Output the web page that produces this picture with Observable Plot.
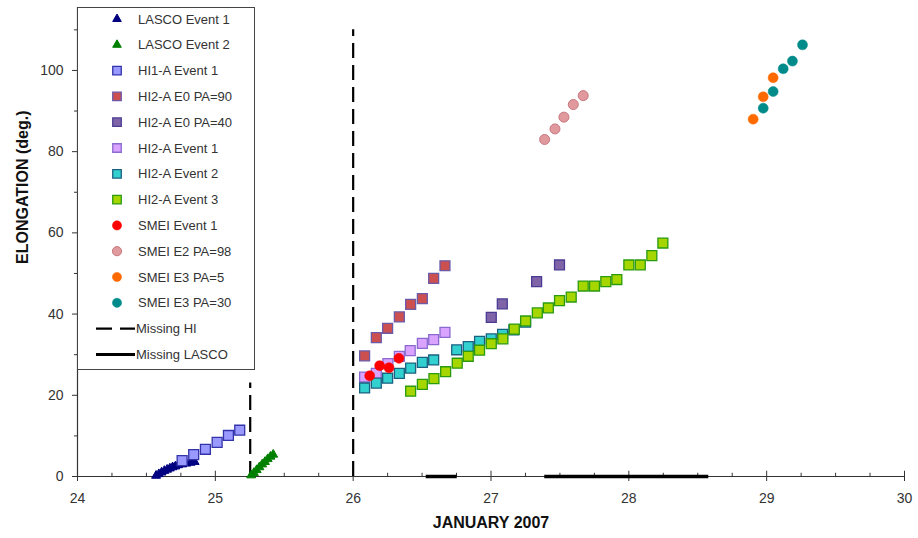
<!DOCTYPE html>
<html><head><meta charset="utf-8">
<script src="https://cdn.jsdelivr.net/npm/d3@7"></script>
<script src="https://cdn.jsdelivr.net/npm/@observablehq/plot@0.6"></script>
<style>
body{margin:0;background:#fff;font-family:Arial,"Liberation Sans",sans-serif}
#wrap{position:relative;width:918px;height:538px}
#legend{position:absolute;left:0;top:0}
</style></head><body><div id="wrap"></div>
<script>
// ---- data: [day of January 2007, elongation (deg.)] ----
const lascoE1 = [[24.57,0.2],[24.59,0.6],[24.61,1.0],[24.63,1.4],[24.65,1.7],[24.67,2.0],[24.69,2.3],[24.71,2.5],[24.73,2.8],[24.76,3.0],[24.79,3.2],[24.82,3.4],[24.85,3.6]];
const lascoE2 = [[25.26,0.3],[25.28,0.9],[25.30,1.6],[25.32,2.3],[25.34,3.0],[25.36,3.6],[25.38,4.3],[25.40,4.9],[25.42,5.4]];
const hi1aE1 = [[24.759,3.9],[24.843,5.4],[24.928,6.7],[25.013,8.4],[25.095,10.1],[25.177,11.4]];
const hi2aE0pa90 = [[26.083,29.7],[26.168,34.2],[26.250,36.5],[26.335,39.3],[26.417,42.4],[26.502,43.8],[26.584,48.8],[26.666,51.9]];
const hi2aE0pa40 = [[27.002,39.2],[27.082,42.5],[27.331,48.0],[27.497,52.1]];
const hi2aE1 = [[26.083,24.5],[26.168,25.4],[26.252,27.8],[26.335,29.6],[26.414,31.0],[26.502,32.8],[26.584,33.7],[26.666,35.5]];
const hi2aE2 = [[26.083,21.8],[26.168,23.0],[26.250,24.2],[26.335,25.4],[26.417,26.7],[26.502,28.1],[26.584,28.7],[26.751,31.2],[26.835,32.0],[26.917,33.3],[27.002,33.9],[27.084,35.0],[27.166,36.1],[27.251,38.0]];
const hi2aE3 = [[26.417,21.0],[26.502,22.7],[26.586,24.1],[26.671,25.8],[26.755,27.9],[26.835,29.6],[26.917,31.1],[27.002,32.7],[27.086,33.9],[27.169,36.3],[27.251,38.3],[27.336,40.3],[27.416,41.5],[27.497,43.3],[27.582,44.2],[27.669,46.9],[27.751,46.9],[27.833,48.0],[27.913,48.5],[28.000,52.1],[28.083,52.1],[28.167,54.4],[28.247,57.5]];
const smeiE1 = [[26.120,24.8],[26.192,27.3],[26.260,26.8],[26.332,29.1]];
const smeiE2pa98 = [[27.389,83.0],[27.464,85.6],[27.529,88.5],[27.597,91.6],[27.669,93.8]];
const smeiE3pa5 = [[28.902,88.0],[28.975,93.5],[29.047,98.2]];
const smeiE3pa30 = [[28.975,90.7],[29.047,94.8],[29.120,100.4],[29.187,102.3],[29.260,106.3]];
const missingHI = [{x:25.253,y1:0,y2:23},{x:26.0,y1:0,y2:110}];
const missingLASCO = [{x1:26.53,x2:26.755},{x1:27.39,x2:28.58}];
const xTicks = [24,25,26,27,28,29,30];
const xMinorTicks = [24.25,24.5,24.75,25.25,25.5,25.75,26.25,26.5,26.75,27.25,27.5,27.75,28.25,28.5,28.75,29.25,29.5,29.75];
const yTicks = [0,20,40,60,80,100];
const yMinorTicks = [10,30,50,70,90,110];
const xTitle = "JANUARY 2007";
const yTitle = "ELONGATION (deg.)";

const series = [
  {name:"LASCO Event 1", data:lascoE1, symbol:"triangle", fill:"#000080", stroke:"#000080", r:3.3, sw:1},
  {name:"LASCO Event 2", data:lascoE2, symbol:"triangle", fill:"#008000", stroke:"#008000", r:3.3, sw:1},
  {name:"HI1-A Event 1", data:hi1aE1, symbol:"square", fill:"#9999ff", stroke:"#3333aa", r:5.6, sw:1.3},
  {name:"HI2-A E0 PA=90", data:hi2aE0pa90, symbol:"square", fill:"#cc5050", stroke:"#6a5aa8", r:5.6, sw:1.3},
  {name:"HI2-A E0 PA=40", data:hi2aE0pa40, symbol:"square", fill:"#8064a8", stroke:"#4a3c94", r:5.6, sw:1.3},
  {name:"HI2-A Event 1", data:hi2aE1, symbol:"square", fill:"#d9a3ff", stroke:"#8a6ad0", r:5.6, sw:1.3},
  {name:"HI2-A Event 2", data:hi2aE2, symbol:"square", fill:"#33d0d0", stroke:"#1a6080", r:5.6, sw:1.3},
  {name:"HI2-A Event 3", data:hi2aE3, symbol:"square", fill:"#a6d600", stroke:"#2a9a10", r:5.6, sw:1.3},
  {name:"SMEI Event 1", data:smeiE1, symbol:"circle", fill:"#ff0000", stroke:"#ff0000", r:5, sw:0.5},
  {name:"SMEI E2 PA=98", data:smeiE2pa98, symbol:"circle", fill:"#e0999c", stroke:"#c87880", r:5, sw:1},
  {name:"SMEI E3 PA=5", data:smeiE3pa5, symbol:"circle", fill:"#ff6a00", stroke:"#ff6a00", r:5, sw:0.5},
  {name:"SMEI E3 PA=30", data:smeiE3pa30, symbol:"circle", fill:"#008b8b", stroke:"#008b8b", r:5, sw:0.5}
];

const dotMarks = series.map(s => Plot.dot(s.data, {
  x: d => d[0], y: d => d[1], symbol: s.symbol, r: s.r,
  fill: s.fill, stroke: s.stroke, strokeWidth: s.sw
}));

const chart = Plot.plot({
  width: 918, height: 538,
  marginLeft: 77, marginRight: 14, marginTop: 7, marginBottom: 62,
  x: {domain: [24, 30]},
  y: {domain: [0, 115.5]},
  style: {fontFamily: "Arial, 'Liberation Sans', sans-serif", fontSize: "14px", color: "#333", background: "#fff"},
  marks: [
    Plot.axisX({ticks: xTicks, tickSize: 5, tickPadding: 12, tickFormat: d => String(d), label: null, stroke: "#333"}),
    Plot.axisY({ticks: yTicks, tickSize: 5, tickPadding: 9, tickFormat: d => String(d), label: null}),
    Plot.axisY({ticks: yMinorTicks, tickSize: 3, tickFormat: () => "", label: null}),
    Plot.ruleX(xTicks, {x: d => d, y1: 0, y2: 1.3, stroke: "#333"}),
    Plot.ruleX(xMinorTicks, {x: d => d, y1: 0, y2: 0.8, stroke: "#333"}),
    Plot.ruleX([24], {stroke: "#333", strokeWidth: 1.2}),
    Plot.ruleY([0], {stroke: "#333", strokeWidth: 1.2}),
    Plot.ruleX(missingHI, {x: "x", y1: "y1", y2: "y2", stroke: "#000", strokeWidth: 2.2, strokeDasharray: "15,7"}),
    Plot.ruleY(missingLASCO, {y: 0, x1: "x1", x2: "x2", stroke: "#000", strokeWidth: 3.5}),
    ...dotMarks,
    Plot.text([xTitle], {frameAnchor: "bottom", dy: 51, fontWeight: "bold", fontSize: 16, fill: "#111"}),
    Plot.text([yTitle], {frameAnchor: "left", dx: -55, dy: 22, rotate: -90, fontWeight: "bold", fontSize: 16, fill: "#111"})
  ]
});

const wrap = document.getElementById("wrap");
wrap.appendChild(chart);

// ---- legend (inside plot, top-left) ----
const lg = d3.select(wrap).append("svg").attr("id","legend").attr("width",918).attr("height",538);
lg.append("rect").attr("x",77.5).attr("y",7.5).attr("width",177).attr("height",362)
  .attr("fill","#fff").attr("stroke","#444").attr("stroke-width",1);
const rowY = i => 19 + i * 25.8;
const area = {triangle: d3.symbolTriangle, square: d3.symbolSquare, circle: d3.symbolCircle};
series.forEach((s, i) => {
  const rr = s.symbol === "triangle" ? 3.2 : s.symbol === "square" ? 4.8 : 4.6;
  lg.append("path").attr("d", d3.symbol(area[s.symbol], rr*rr*Math.PI)())
    .attr("transform", `translate(117,${rowY(i)})`)
    .attr("fill", s.fill).attr("stroke", s.stroke).attr("stroke-width", s.sw);
  lg.append("text").attr("x",138).attr("y",rowY(i)).attr("dy","0.35em")
    .attr("font-size",13).attr("fill","#333").text(s.name);
});
const lines = [{name:"Missing HI", dash:"16,8", w:2.2},{name:"Missing LASCO", dash:null, w:3}];
lines.forEach((l, j) => {
  const y = rowY(12 + j);
  lg.append("line").attr("x1",96).attr("x2",135).attr("y1",y).attr("y2",y)
    .attr("stroke","#000").attr("stroke-width",l.w).attr("stroke-dasharray",l.dash);
  lg.append("text").attr("x",136).attr("y",y).attr("dy","0.35em")
    .attr("font-size",13).attr("fill","#333").text(l.name);
});
</script></body></html>
